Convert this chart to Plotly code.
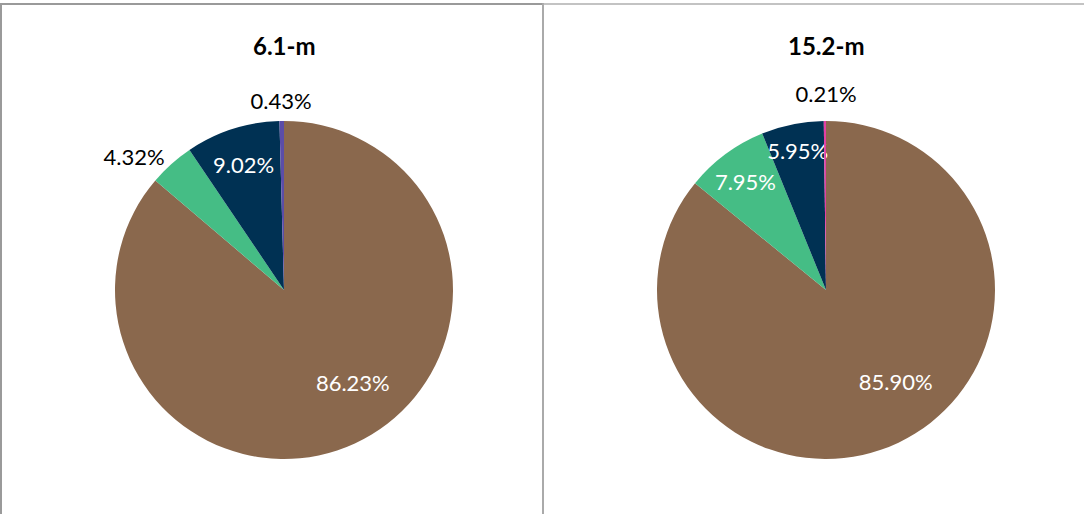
import plotly.graph_objects as go

categories = ["Brown", "Green", "Navy", "Minor"]
values_61 = [86.23, 4.32, 9.02, 0.43]
values_152 = [85.90, 7.95, 5.95, 0.21]
titles = ["6.1-m", "15.2-m"]
pos_61 = ["none", "outside", "inside", "none"]
pos_152 = ["none", "inside", "inside", "none"]
colors_61 = ["#8A684D", "#45BD85", "#003153", "#5B4DA8"]
colors_152 = ["#8A684D", "#45BD85", "#003153", "#E33FA4"]

W, H = 1084, 514
FONT = "Lato"
FS = 22
CLEAR = "rgba(0,0,0,0)"

fig = go.Figure()


def px_dom(x0, x1, ytop, ybot):
    return dict(x=[x0 / W, x1 / W], y=[1 - ybot / H, 1 - ytop / H])


def add_pie(vals, cols, pos, cx, tiny_cx, tiny_top):
    dom = px_dom(cx - 169, cx + 169, 121, 459)
    fig.add_trace(go.Pie(
        labels=categories, values=vals, sort=False, direction="clockwise", rotation=0,
        marker=dict(colors=cols, line=dict(width=0)),
        texttemplate="%{value:.2f}%", textposition=pos,
        insidetextfont=dict(color="white", size=FS, family=FONT),
        outsidetextfont=dict(color="black", size=FS, family=FONT),
        insidetextorientation="horizontal",
        domain=dom, showlegend=False, hoverinfo="skip",
    ))
    # transparent ring carrying the label of the large slice further out
    big_text = ["%.2f%%" % vals[0]] + [""] * (len(vals) - 1)
    fig.add_trace(go.Pie(
        labels=categories, values=vals, sort=False, direction="clockwise", rotation=-12,
        hole=0.36,
        marker=dict(colors=[CLEAR] * len(vals), line=dict(width=0)),
        text=big_text, textinfo="text", textposition="inside",
        insidetextfont=dict(color="white", size=FS, family=FONT),
        insidetextorientation="horizontal",
        domain=dom, showlegend=False, hoverinfo="skip",
    ))
    # transparent helper pie whose title carries the label of the tiny slice
    B = tiny_top + 106.5
    fig.add_trace(go.Pie(
        labels=categories, values=vals, sort=False,
        marker=dict(colors=[CLEAR] * len(vals), line=dict(width=0)),
        textinfo="none",
        title=dict(text="%.2f%%" % vals[-1], position="top center",
                   font=dict(color="black", size=FS, family=FONT)),
        domain=px_dom(tiny_cx - 50, tiny_cx + 50, B - 140, B),
        showlegend=False, hoverinfo="skip",
    ))


add_pie(values_61, colors_61, pos_61, 284, 281, 114)
add_pie(values_152, colors_152, pos_152, 826, 826, 107)

for cx, t in zip([284, 826], titles):
    fig.add_annotation(x=cx / W, y=1 - 45 / H, xref="paper", yref="paper",
                       xanchor="center", yanchor="middle",
                       text="<b>" + t + "</b>", showarrow=False,
                       font=dict(size=24, family=FONT, color="black"))

# panel borders
fig.add_shape(type="rect", xref="paper", yref="paper", x0=1 / W, x1=543 / W,
              y0=-0.05, y1=1 - 4 / H, line=dict(color="#9a9a9a", width=2))
fig.add_shape(type="rect", xref="paper", yref="paper", x0=543 / W, x1=1.05,
              y0=-0.05, y1=1 - 4 / H, line=dict(color="#b0b0b0", width=1.5))

fig.update_layout(width=W, height=H, margin=dict(l=0, r=0, t=0, b=0),
                  paper_bgcolor="white", plot_bgcolor="white",
                  uniformtext=dict(mode="show", minsize=FS))
fig.write_html("out.html", config={"displayModeBar": False},
               post_script="document.body.style.margin='0';document.body.style.overflow='hidden';")
